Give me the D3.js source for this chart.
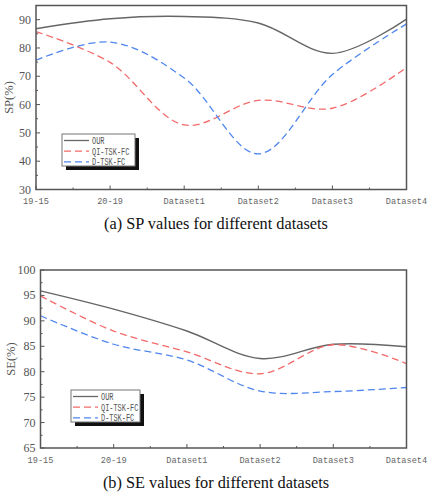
<!DOCTYPE html>
<html><head><meta charset="utf-8">
<script src="https://cdn.jsdelivr.net/npm/d3@7"></script>
<style>body{margin:0;background:#fff}svg{display:block}</style>
</head><body>
<svg id="c" width="432" height="496"></svg>
<script>
const categories = ["19-15","20-19","Dataset1","Dataset2","Dataset3","Dataset4"];
const seriesNames = ["OUR","QI-TSK-FC","D-TSK-FC"];
const spOUR = [86.8, 90.3, 91.1, 88.8, 78.1, 90.2];
const spQI  = [85.8, 74.9, 52.8, 61.5, 58.7, 73.1];
const spD   = [75.7, 82.1, 69.4, 42.6, 70.6, 88.5];
const seOUR = [95.9, 92.3, 88.0, 82.6, 85.4, 84.9];
const seQI  = [94.9, 88.0, 83.9, 79.6, 85.3, 81.6];
const seD   = [91.0, 85.4, 82.3, 76.2, 76.1, 76.9];
const spTicks = [30,40,50,60,70,80,90];
const seTicks = [65,70,75,80,85,90,95,100];

const colors = ["#666666","#f36a6a","#4f86ee"];
const dashes = [null,"7,4","7,4"];
const svg = d3.select("#c");

function panel(cfg){
  const g = svg.append("g");
  const x = d3.scalePoint().domain(categories).range([cfg.left, cfg.right]);
  const y = d3.scaleLinear().domain(cfg.domain).range([cfg.bottom, cfg.top]);
  const xs = categories.map(c=>x(c));
  const step = xs[1]-xs[0];
  categories.forEach((c,i)=>{
    g.append("line").attr("x1",x(c)).attr("x2",x(c)).attr("y1",cfg.bottom).attr("y2",cfg.bottom-4).attr("stroke","#555").attr("stroke-width",1);
    if(i<categories.length-1){
      const mx = x(c)+step/2;
      g.append("line").attr("x1",mx).attr("x2",mx).attr("y1",cfg.bottom).attr("y2",cfg.bottom-2).attr("stroke","#555").attr("stroke-width",1);
    }
    g.append("text").attr("x",x(c)).attr("y",cfg.bottom+14.5).attr("text-anchor","middle")
      .attr("font-family","Liberation Mono, monospace").attr("font-size",8.6).attr("fill","#666").text(c);
  });
  const ticks = cfg.ticks;
  const half = (ticks[1]-ticks[0])/2;
  ticks.forEach((t,i)=>{
    g.append("line").attr("x1",cfg.left).attr("x2",cfg.left+4).attr("y1",y(t)).attr("y2",y(t)).attr("stroke","#555");
    const m = t+half;
    if(m<=cfg.domain[1]) g.append("line").attr("x1",cfg.left).attr("x2",cfg.left+2).attr("y1",y(m)).attr("y2",y(m)).attr("stroke","#555");
    g.append("text").attr("x",cfg.left-5).attr("y",y(t)+4).attr("text-anchor","end")
      .attr("font-family","Liberation Serif, serif").attr("font-size",12).attr("fill","#555").text(t);
  });
  const line = d3.line().x((d,i)=>x(categories[i])).y(d=>y(d)).curve(d3.curveCatmullRom.alpha(0.5));
  cfg.series.forEach((s,k)=>{
    g.append("path").attr("d",line(s)).attr("fill","none").attr("stroke",colors[k])
      .attr("stroke-width",k===0?1.4:1.3).attr("stroke-dasharray",dashes[k]);
  });
  g.append("rect").attr("x",cfg.left).attr("y",cfg.top).attr("width",cfg.right-cfg.left).attr("height",cfg.bottom-cfg.top)
    .attr("fill","none").attr("stroke","#555").attr("stroke-width",1.5);
  g.append("text").attr("transform",`translate(${cfg.ylx},${(cfg.top+cfg.bottom)/2}) rotate(-90)`)
    .attr("text-anchor","middle").attr("font-family","Liberation Serif, serif").attr("font-size",12.5).attr("fill","#555").text(cfg.ylabel);
  const L = cfg.legend;
  g.append("rect").attr("x",L.x+4).attr("y",L.y+4).attr("width",L.w).attr("height",L.h).attr("fill","#111");
  g.append("rect").attr("x",L.x).attr("y",L.y).attr("width",L.w).attr("height",L.h).attr("fill","#fff").attr("stroke","#777").attr("stroke-width",1);
  seriesNames.forEach((n,k)=>{
    const yy = L.y+6.5+k*10.7;
    g.append("line").attr("x1",L.x+2).attr("x2",L.x+27).attr("y1",yy).attr("y2",yy).attr("stroke",colors[k]).attr("stroke-width",1.3).attr("stroke-dasharray",dashes[k]);
    g.append("text").attr("x",L.x+30).attr("y",yy+3.5).attr("font-family","Liberation Mono, monospace").attr("font-size",10)
      .attr("fill","#555").attr("textLength",n.length*4.15).attr("lengthAdjust","spacingAndGlyphs").text(n);
  });
  g.append("text").attr("x",216).attr("y",cfg.capY).attr("text-anchor","middle").attr("font-family","Liberation Serif, serif")
    .attr("font-size",16.3).attr("fill","#111").text(cfg.caption);
}

panel({left:36,right:406.5,top:5.5,bottom:189.5,domain:[30,95],ticks:spTicks,series:[spOUR,spQI,spD],
  ylabel:"SP(%)",ylx:13,legend:{x:62,y:134,w:73,h:32},caption:"(a) SP values for different datasets",capY:228.5});
panel({left:40.5,right:406.5,top:270,bottom:448,domain:[65,100],ticks:seTicks,series:[seOUR,seQI,seD],
  ylabel:"SE(%)",ylx:15,legend:{x:71,y:390,w:69,h:32},caption:"(b) SE values for different datasets",capY:487.5});
</script>
</body></html>
